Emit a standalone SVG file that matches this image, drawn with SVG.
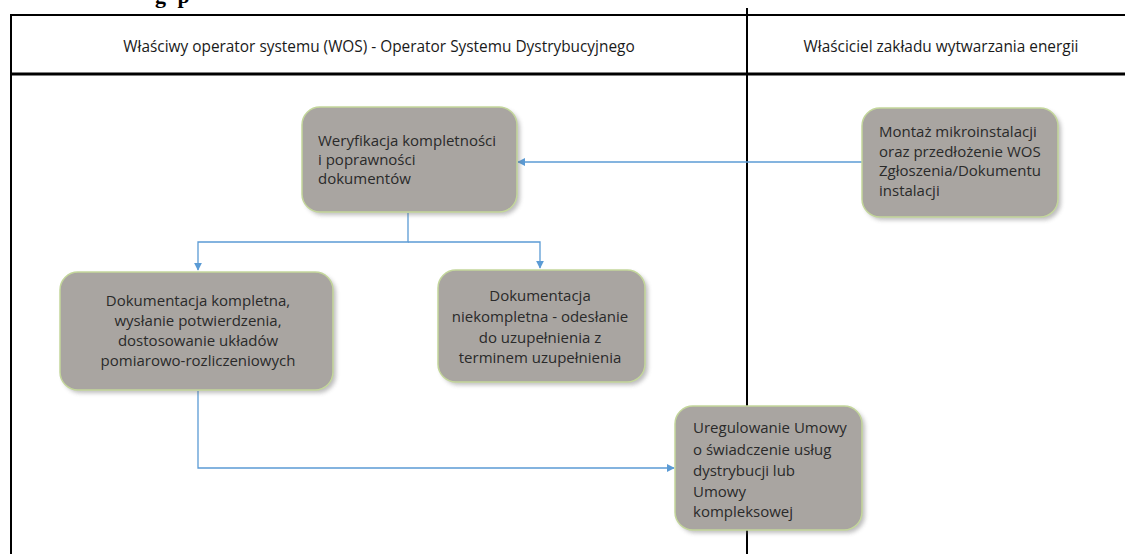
<svg xmlns="http://www.w3.org/2000/svg" width="1125" height="554" viewBox="0 0 1125 554">
<defs>
<style>
.frame{fill:none;stroke:#000;stroke-width:2}
.hdr{font-family:"Open Sans","Liberation Sans",sans-serif;font-size:15.4px;fill:#1a1a1a}
.box{fill:#a9a5a1;stroke:#c3d69b;stroke-width:1.5}
.shadow{fill:#6e6e6e;opacity:0.45}
.t{font-family:"Open Sans","Liberation Sans",sans-serif;font-size:15px;fill:#2a2a2a}
.c{text-anchor:middle}
.conn{fill:none;stroke:#5b9bd5;stroke-width:1.3}
</style>
<marker id="arr" viewBox="0 0 10 10" refX="9" refY="5" markerWidth="8" markerHeight="8" markerUnits="userSpaceOnUse" orient="auto">
<path d="M0,0 L10,5 L0,10 z" fill="#5b9bd5"/>
</marker>
<filter id="blur" x="-10%" y="-10%" width="120%" height="120%"><feGaussianBlur stdDeviation="2"/></filter>
</defs>
<rect width="1125" height="554" fill="#fff"/>
<text x="155" y="3" font-family="Liberation Serif,serif" font-weight="bold" font-size="22" fill="#000" letter-spacing="3">g p</text>
<g id="table">
<line x1="10" y1="15" x2="1125" y2="15" class="frame"/>
<line x1="10" y1="74" x2="1125" y2="74" stroke="#000" stroke-width="3"/>
<line x1="11" y1="14" x2="11" y2="554" class="frame"/>
<line x1="747" y1="8" x2="747" y2="554" class="frame"/>
<text x="379" y="52" class="hdr c">Właściwy operator systemu (WOS) - Operator Systemu Dystrybucyjnego</text>
<text x="941" y="52" class="hdr c">Właściciel zakładu wytwarzania energii</text>
</g>
<g id="connectors">
<path d="M862,162 L518,162" class="conn" marker-end="url(#arr)"/>
<path d="M408,213 L408,242 L198,242 L198,270" class="conn" marker-end="url(#arr)"/>
<path d="M408,242 L540,242 L540,268" class="conn" marker-end="url(#arr)"/>
<path d="M198,391 L198,468 L674,468" class="conn" marker-end="url(#arr)"/>
</g>
<g id="n1">
<rect x="305" y="110" width="215" height="105" rx="18" class="shadow" filter="url(#blur)"/>
<rect x="302" y="107" width="215" height="105" rx="18" class="box"/>
<text class="t"><tspan x="318" y="146">Weryfikacja kompletności</tspan><tspan x="318" y="165">i poprawności</tspan><tspan x="318" y="184">dokumentów</tspan></text>
</g>
<g id="n2">
<rect x="865" y="111" width="196" height="109" rx="18" class="shadow" filter="url(#blur)"/>
<rect x="862" y="108" width="196" height="109" rx="18" class="box"/>
<text class="t"><tspan x="879" y="137">Montaż mikroinstalacji</tspan><tspan x="879" y="157">oraz przedłożenie WOS</tspan><tspan x="879" y="176">Zgłoszenia/Dokumentu</tspan><tspan x="879" y="196">instalacji</tspan></text>
</g>
<g id="n3">
<rect x="63" y="275" width="273" height="118" rx="18" class="shadow" filter="url(#blur)"/>
<rect x="60" y="272" width="273" height="118" rx="18" class="box"/>
<text class="t c"><tspan x="198" y="306">Dokumentacja kompletna,</tspan><tspan x="198" y="326">wysłanie potwierdzenia,</tspan><tspan x="198" y="346">dostosowanie układów</tspan><tspan x="198" y="366">pomiarowo-rozliczeniowych</tspan></text>
</g>
<g id="n4">
<rect x="441" y="273" width="207" height="112" rx="18" class="shadow" filter="url(#blur)"/>
<rect x="438" y="270" width="207" height="112" rx="18" class="box"/>
<text class="t c"><tspan x="540" y="301">Dokumentacja</tspan><tspan x="540" y="322">niekompletna - odesłanie</tspan><tspan x="540" y="343">do uzupełnienia z</tspan><tspan x="540" y="363">terminem uzupełnienia</tspan></text>
</g>
<g id="n5">
<rect x="678" y="409" width="187" height="124" rx="18" class="shadow" filter="url(#blur)"/>
<rect x="675" y="406" width="187" height="124" rx="18" class="box"/>
<text class="t"><tspan x="693" y="433">Uregulowanie Umowy</tspan><tspan x="693" y="455">o świadczenie usług</tspan><tspan x="693" y="476">dystrybucji lub</tspan><tspan x="693" y="497">Umowy</tspan><tspan x="693" y="517">kompleksowej</tspan></text>
</g>
</svg>
